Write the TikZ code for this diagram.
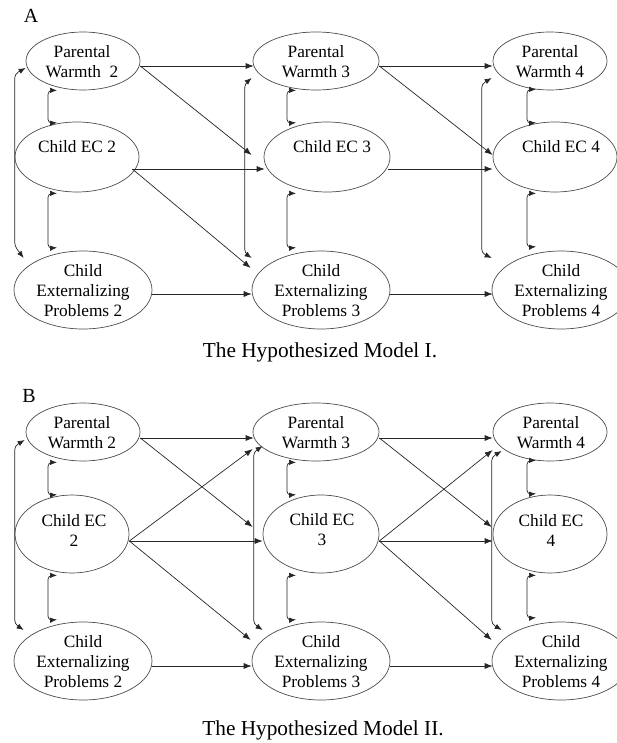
\documentclass[tikz,border=0pt]{standalone}
\usepackage{fontspec}
\setmainfont{Liberation Serif}
\usetikzlibrary{shapes.geometric,arrows.meta,calc}
\tikzset{
  ell/.style={draw=black!70, line width=0.7pt, ellipse, inner sep=0pt},
  lbl/.style={font=\fontsize{17.3}{20}\selectfont, align=center, inner sep=0pt},
  ttl/.style={font=\fontsize{21.3}{25}\selectfont, inner sep=0pt, anchor=base},
  panel/.style={font=\fontsize{20}{24}\selectfont, inner sep=0pt, anchor=base},
  arr/.style={draw=black!85, line width=0.7pt, -{Latex[length=8pt,width=6pt]}},
  darr/.style={draw=black!85, line width=0.7pt, {Latex[length=7pt,width=5.5pt]}-{Latex[length=7pt,width=5.5pt]}, rounded corners=4pt}
}
\begin{document}
\begin{tikzpicture}[x=1pt,y=-1pt]
\useasboundingbox (0,0) rectangle (617,743);
\clip (0,0) rectangle (617,743);

% ---------------- Panel A ----------------
\node[panel] (lA) at (31,23) {A};
\node[ell, minimum width=114pt, minimum height=58pt] (a_pw2) at (83,61) {};
\node[ell, minimum width=124pt, minimum height=70pt] (a_cec2) at (77,157) {};
\node[ell, minimum width=138pt, minimum height=78pt] (a_cep2) at (83,290) {};
\node[ell, minimum width=126pt, minimum height=58pt] (a_pw3) at (316,61) {};
\node[ell, minimum width=126pt, minimum height=70pt] (a_cec3) at (327,157) {};
\node[ell, minimum width=138pt, minimum height=78pt] (a_cep3) at (321,290) {};
\node[ell, minimum width=114pt, minimum height=58pt] (a_pw4) at (550,61) {};
\node[ell, minimum width=124pt, minimum height=70pt] (a_cec4) at (555,157) {};
\node[ell, minimum width=138pt, minimum height=78pt] (a_cep4) at (561,290) {};

\node[lbl] (a_pw2t) at (82,62) {Parental\\Warmth\ \ 2};
\node[lbl] (a_cec2t) at (77,147) {Child EC 2};
\node[lbl] (a_cep2t) at (83,291) {Child\\Externalizing\\Problems 2};
\node[lbl] (a_pw3t) at (316,62) {Parental\\Warmth 3};
\node[lbl] (a_cec3t) at (332,147) {Child EC 3};
\node[lbl] (a_cep3t) at (321,291) {Child\\Externalizing\\Problems 3};
\node[lbl] (a_pw4t) at (550,62) {Parental\\Warmth 4};
\node[lbl] (a_cec4t) at (561,147) {Child EC 4};
\node[lbl] (a_cep4t) at (561,291) {Child\\Externalizing\\Problems 4};

\node[ttl] (a_title) at (320,357) {The Hypothesized Model I.};

% directed paths A
\draw[arr] ($(a_pw2.east)+(0,5)$) -- ($(a_pw3.west)+(1,5)$);
\draw[arr] ($(a_pw2.east)+(0,5)$) -- ($(a_cec3.west)+(-12,-2)$);
\draw[arr] ($(a_cec2.east)+(-7,12)$) -- ($(a_cec3.west)+(1,12)$);
\draw[arr] ($(a_cec2.east)+(-7,12)$) -- ($(a_cep3.west)+(-1,-22)$);
\draw[arr] ($(a_cep2.east)+(0,4)$) -- ($(a_cep3.west)+(0,4)$);
\draw[arr] ($(a_pw3.east)+(0,5)$) -- ($(a_pw4.west)+(0,5)$);
\draw[arr] ($(a_pw3.east)+(0,5)$) -- ($(a_cec4.west)+(0,-2)$);
\draw[arr] ($(a_cec3.east)+(-2,12)$) -- ($(a_cec4.west)+(0,12)$);
\draw[arr] ($(a_cep3.east)+(0,4)$) -- ($(a_cep4.west)+(1,4)$);

% correlations A
\draw[darr] ($(a_pw2.west)+(0,7)$) -- ++(-11,6) -- ++(0,172) -- ($(a_cep2.west)+(10,-32)$);
\draw[darr] ($(a_pw2.south)+(-26,0)$) -- ++(-9,0) -- ++(0,33) -- ($(a_cec2.north)+(-20,1)$);
\draw[darr] ($(a_cec2.south)+(-20,1)$) -- ++(-9,0) -- ++(0,55) -- ($(a_cep2.north)+(-26,-3)$);

\draw[darr] ($(a_pw3.west)+(-1,17)$) -- ++(-7,6) -- ++(0,169) -- ($(a_cep3.west)+(0,-32)$);
\draw[darr] ($(a_pw3.south)+(-20,0)$) -- ++(-9,0) -- ++(0,33) -- ($(a_cec3.north)+(-31,1)$);
\draw[darr] ($(a_cec3.south)+(-31,1)$) -- ++(-9,0) -- ++(0,55) -- ($(a_cep3.north)+(-25,-3)$);

\draw[darr] ($(a_pw4.west)+(-1,17)$) -- ++(-10,6) -- ++(0,169) -- ($(a_cep4.west)+(0,-32)$);
\draw[darr] ($(a_pw4.south)+(-14,-1)$) -- ++(-9,0) -- ++(0,34) -- ($(a_cec4.north)+(-19,1)$);
\draw[darr] ($(a_cec4.south)+(-19,1)$) -- ++(-9,0) -- ++(0,54) -- ($(a_cep4.north)+(-25,-4)$);

% ---------------- Panel B ----------------
\node[panel] (lB) at (29,402) {B};
\node[ell, minimum width=114pt, minimum height=58pt] (b_pw2) at (83,432) {};
\node[ell, minimum width=114pt, minimum height=78pt] (b_cec2) at (72,534) {};
\node[ell, minimum width=138pt, minimum height=78pt] (b_cep2) at (83,661) {};
\node[ell, minimum width=126pt, minimum height=58pt] (b_pw3) at (316,432) {};
\node[ell, minimum width=116pt, minimum height=78pt] (b_cec3) at (321,534) {};
\node[ell, minimum width=138pt, minimum height=78pt] (b_cep3) at (321,661) {};
\node[ell, minimum width=114pt, minimum height=58pt] (b_pw4) at (550,432) {};
\node[ell, minimum width=114pt, minimum height=78pt] (b_cec4) at (550,534) {};
\node[ell, minimum width=138pt, minimum height=78pt] (b_cep4) at (561,661) {};

\node[lbl] (b_pw2t) at (82,433) {Parental\\Warmth 2};
\node[lbl] (b_cec2t) at (74,530) {Child EC\\2};
\node[lbl] (b_cep2t) at (83,662) {Child\\Externalizing\\Problems 2};
\node[lbl] (b_pw3t) at (316,433) {Parental\\Warmth 3};
\node[lbl] (b_cec3t) at (322,530) {Child EC\\3};
\node[lbl] (b_cep3t) at (321,662) {Child\\Externalizing\\Problems 3};
\node[lbl] (b_pw4t) at (551,433) {Parental\\Warmth 4};
\node[lbl] (b_cec4t) at (551,530) {Child EC\\4};
\node[lbl] (b_cep4t) at (561,662) {Child\\Externalizing\\Problems 4};

\node[ttl] (b_title) at (323,735) {The Hypothesized Model II.};

% directed paths B
\draw[arr] ($(b_pw2.east)+(0,6)$) -- ($(b_pw3.west)+(1,6)$);
\draw[arr] ($(b_pw2.east)+(0,6)$) -- ($(b_cec3.west)+(-10,-7)$);
\draw[arr] ($(b_cec2.east)+(0,7)$) -- ($(b_pw3.west)+(0,17)$);
\draw[arr] ($(b_cec2.east)+(0,7)$) -- ($(b_cec3.west)+(0,7)$);
\draw[arr] ($(b_cec2.east)+(0,7)$) -- ($(b_cep3.west)+(-1,-21)$);
\draw[arr] ($(b_cep2.east)+(0,5)$) -- ($(b_cep3.west)+(0,5)$);
\draw[arr] ($(b_pw3.east)+(0,6)$) -- ($(b_pw4.west)+(0,6)$);
\draw[arr] ($(b_pw3.east)+(0,6)$) -- ($(b_cec4.west)+(-1,-7)$);
\draw[arr] ($(b_cec3.east)+(0,7)$) -- ($(b_pw4.west)+(0,18)$);
\draw[arr] ($(b_cec3.east)+(0,7)$) -- ($(b_cec4.west)+(0,7)$);
\draw[arr] ($(b_cec3.east)+(0,7)$) -- ($(b_cep4.west)+(0,-21)$);
\draw[arr] ($(b_cep3.east)+(0,5)$) -- ($(b_cep4.west)+(1,5)$);

% correlations B
\draw[darr] ($(b_pw2.west)+(-1,8)$) -- ++(-10,6) -- ++(0,178) -- ($(b_cep2.west)+(10,-31)$);
\draw[darr] ($(b_pw2.south)+(-26,1)$) -- ++(-9,0) -- ++(0,33) -- ($(b_cec2.north)+(-15,0)$);
\draw[darr] ($(b_cec2.south)+(-15,2)$) -- ++(-9,0) -- ++(0,45) -- ($(b_cep2.north)+(-26,-2)$);

\draw[darr] ($(b_pw3.west)+(10,14)$) -- ++(-9,6) -- ++(0,172) -- ($(b_cep3.west)+(11,-31)$);
\draw[darr] ($(b_pw3.south)+(-20,1)$) -- ++(-9,0) -- ++(0,33) -- ($(b_cec3.north)+(-25,0)$);
\draw[darr] ($(b_cec3.south)+(-25,2)$) -- ++(-9,0) -- ++(0,45) -- ($(b_cep3.north)+(-25,-2)$);

\draw[darr] ($(b_pw4.west)+(9,19)$) -- ++(-10,6) -- ++(0,167) -- ($(b_cep4.west)+(10,-31)$);
\draw[darr] ($(b_pw4.south)+(-14,-1)$) -- ++(-9,0) -- ++(0,34) -- ($(b_cec4.north)+(-14,-1)$);
\draw[darr] ($(b_cec4.south)+(-14,2)$) -- ++(-9,0) -- ++(0,43) -- ($(b_cep4.north)+(-25,-4)$);
\end{tikzpicture}
\end{document}
